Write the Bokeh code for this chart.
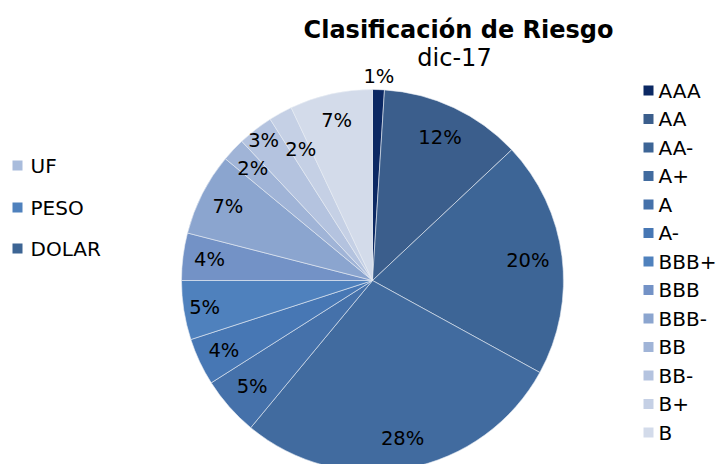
import math
from bokeh.plotting import figure
from bokeh.models import Range1d, ColumnDataSource
from bokeh.core.properties import value
from bokeh.embed import file_html
from bokeh.resources import INLINE

# ---- data ----
ratings = ["AAA", "AA", "AA-", "A+", "A", "A-", "BBB+", "BBB", "BBB-", "BB", "BB-", "B+", "B"]
shares = [1, 12, 20, 28, 5, 4, 5, 4, 7, 2, 3, 2, 7]
currencies = ["UF", "PESO", "DOLAR"]
title_text = "Clasificación de Riesgo"
subtitle_text = "dic-17"

# ---- style ----
colors = ["#0b2863", "#3b5e8c", "#3d6596", "#416b9f", "#4571aa", "#4777b4", "#4f81bd",
          "#7392c6", "#8ba5cf", "#a0b4d7", "#b4c3df", "#c5d0e5", "#d3dbea"]
cur_colors = ["#a9bcdc", "#4f81bd", "#3d6594"]
label_rf = [1.07, 0.83, 0.82, 0.84, 0.84, 0.86, 0.89, 0.86, 0.85, 0.86, 0.93, 0.78, 0.86]
FONT = value("DejaVu Sans")

W, H = 720, 464
def py(page_y):
    return H - page_y
def px(page_x):
    return page_x

p = figure(width=W, height=H, output_backend="svg", toolbar_location=None,
           x_range=Range1d(0, W), y_range=Range1d(0, H), min_border=0)
p.axis.visible = False
p.grid.visible = False
p.outline_line_color = None
p.background_fill_color = "white"

cx, cy, R = px(372), py(280), 191
total = sum(shares)
starts, ends, mids = [], [], []
acc = 0
for s in shares:
    a0 = 90 - acc / total * 360
    acc += s
    a1 = 90 - acc / total * 360
    starts.append(a0); ends.append(a1); mids.append((a0 + a1) / 2)

src = ColumnDataSource(dict(start=starts, end=ends, color=colors))
p.wedge(x=cx, y=cy, radius=R, radius_units="screen", start_angle="start", end_angle="end",
        start_angle_units="deg", end_angle_units="deg", direction="clock",
        fill_color="color", line_color="#e8ecf4", line_width=0.6, source=src)

lx = [cx + R * f * math.cos(math.radians(m)) for m, f in zip(mids, label_rf)]
ly = [cy + R * f * math.sin(math.radians(m)) for m, f in zip(mids, label_rf)]
labels = [f"{s}%" for s in shares]
p.text(x=lx, y=ly, text=labels, text_align="center", text_baseline="middle",
       text_font=FONT, text_font_size="19.5px", text_color="#000000")

# title
p.text(x=[px(458)], y=[py(29)], text=[title_text], text_align="center", text_baseline="middle",
       text_font=FONT, text_font_size="24px", text_font_style="bold", text_color="#000000")
p.text(x=[px(454)], y=[py(57)], text=[subtitle_text], text_align="center", text_baseline="middle",
       text_font=FONT, text_font_size="24px", text_color="#000000")

# right legend
ry = [py(90 + i * 28.5) for i in range(len(ratings))]
p.rect(x=[px(648)] * len(ratings), y=ry, width=10, height=10, fill_color=colors, line_color=None)
p.text(x=[px(658)] * len(ratings), y=ry, text=ratings, text_align="left", text_baseline="middle",
       text_font=FONT, text_font_size="20px", text_color="#000000")

# left legend
cy_l = [py(165), py(207), py(248)]
p.rect(x=[px(17)] * 3, y=cy_l, width=10, height=10, fill_color=cur_colors, line_color=None)
p.text(x=[px(30)] * 3, y=cy_l, text=currencies, text_align="left", text_baseline="middle",
       text_font=FONT, text_font_size="20px", text_color="#000000")

open("out.html", "w").write(file_html(p, INLINE))
